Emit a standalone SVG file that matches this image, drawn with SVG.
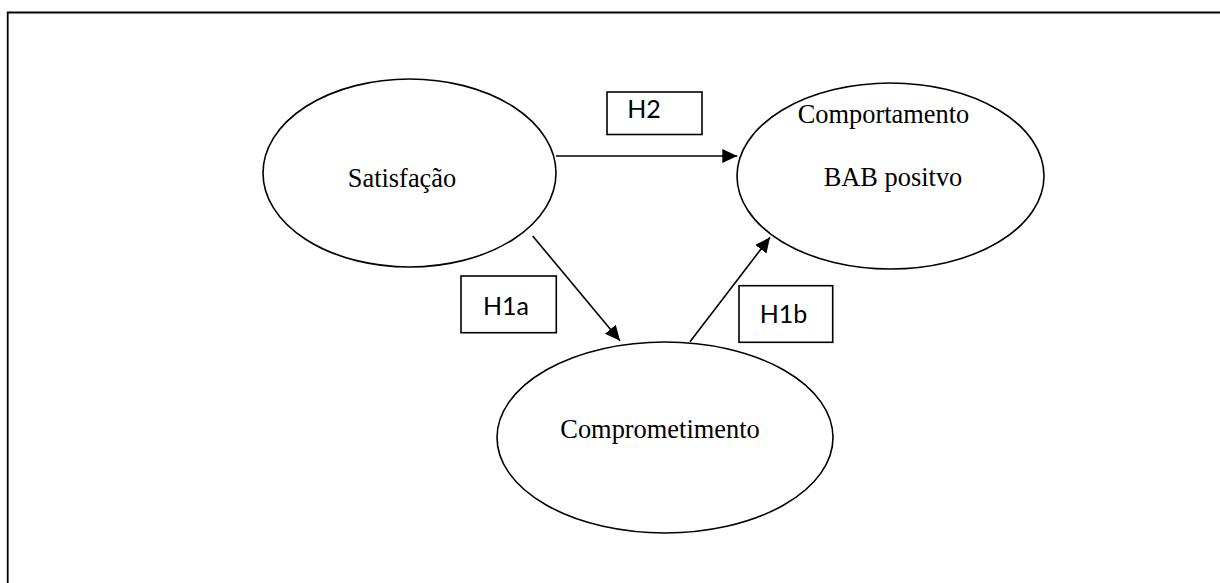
<svg xmlns="http://www.w3.org/2000/svg" width="1220" height="583" viewBox="0 0 1220 583">
<style>
.node{fill:#fff;stroke:#000;stroke-width:1.6}
.lbl{font-family:"Liberation Serif","Times New Roman",serif;font-size:26.4px;fill:#000;text-anchor:middle}
.hbox{fill:#fff;stroke:#000;stroke-width:1.6}
.htxt{font-family:Lato,"Open Sans","Liberation Sans",sans-serif;font-size:25px;fill:#000;text-anchor:middle}
.edge{stroke:#000;stroke-width:1.6;fill:none;marker-end:url(#arr)}
</style>
<defs>
<marker id="arr" markerUnits="userSpaceOnUse" markerWidth="16" markerHeight="15" refX="15" refY="7" orient="auto">
<path d="M0,0 L15,7 L0,14 Z" fill="#000"/>
</marker>
</defs>
<path id="frame" d="M7.7,583 V12.5 H1220" fill="none" stroke="#000" stroke-width="1.8"/>
<g id="satisfacao">
<ellipse class="node" cx="409.5" cy="173" rx="146.5" ry="94"/>
<text class="lbl" x="402" y="187">Satisfação</text>
</g>
<g id="comportamento">
<ellipse class="node" cx="890.5" cy="176" rx="153.5" ry="93"/>
<text class="lbl" x="883.5" y="123">Comportamento</text>
<text class="lbl" x="893" y="186">BAB positvo</text>
</g>
<g id="comprometimento">
<ellipse class="node" cx="665" cy="437.5" rx="168" ry="95.5"/>
<text class="lbl" x="660" y="438">Comprometimento</text>
</g>
<g id="connectors">
<line class="edge" x1="556" y1="156" x2="737.3" y2="156"/>
<line class="edge" x1="532.7" y1="236" x2="620" y2="340.7"/>
<line class="edge" x1="690" y1="341.7" x2="770" y2="237.3"/>
</g>
<g id="h2">
<rect class="hbox" x="607" y="92" width="95" height="42.5"/>
<text class="htxt" x="644" y="117.7">H2</text>
</g>
<g id="h1a">
<rect class="hbox" x="461" y="276" width="95.3" height="56.7"/>
<text class="htxt" x="506" y="315">H1a</text>
</g>
<g id="h1b">
<rect class="hbox" x="739" y="285.7" width="93.7" height="56.6"/>
<text class="htxt" x="783.5" y="323.3">H1b</text>
</g>
</svg>
